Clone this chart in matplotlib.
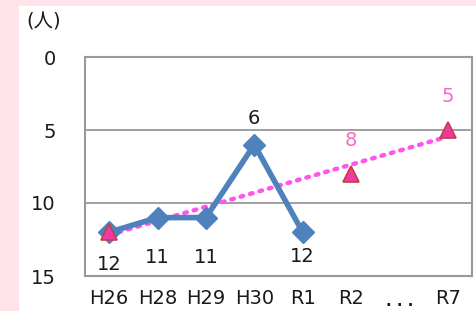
import numpy as np
import matplotlib
matplotlib.use("Agg")
import matplotlib.pyplot as plt
from matplotlib.patches import Rectangle

plt.rcParams["font.family"] = ["DejaVu Sans", "Noto Sans CJK JP"]

categories = ["H26", "H28", "H29", "H30", "R1", "R2", ". . .", "R7"]
actual_idx = [0, 1, 2, 3, 4]
actual_vals = [12, 11, 11, 6, 12]
target_idx = [0, 5, 7]
target_vals = [12, 8, 5]
target_labels = [None, "8", "5"]

blue = "#4F81BD"
pink = "#FF66CC"
fs = 14

fig = plt.figure(figsize=(4.77, 3.11), dpi=100)
fig.patch.set_facecolor("#FFE3E8")
fig.patches.append(Rectangle((19 / 477, 0), 1, 1 - 6 / 311, transform=fig.transFigure,
                             facecolor="white", edgecolor="none", zorder=0))

ax = fig.add_axes([85 / 477, 1 - 276 / 311, 387 / 477, (276 - 57) / 311])
ax.set_zorder(2)
ax.set_facecolor("white")

# linear trend through the target points
coef = np.polyfit(target_idx, target_vals, 1)
tx = np.array([0, 7])
ax.plot(tx, np.polyval(coef, tx), color="#FF55EE", linestyle=(0, (0.6, 1.6)),
        linewidth=3.2, dash_capstyle="round", zorder=3)

ax.plot(actual_idx, actual_vals, color=blue, linewidth=4.0, marker="D",
        markersize=11, zorder=4)
ax.plot(target_idx, target_vals, linestyle="none", marker="^", markersize=12,
        markerfacecolor="#F23A9E", markeredgecolor="#C0404A", markeredgewidth=1.2, zorder=5)

# data labels
blue_offsets = [2.2, 2.75, 2.75, -1.8, 1.65]
for i, v, dy in zip(actual_idx, actual_vals, blue_offsets):
    ax.text(i, v + dy, str(v), ha="center", va="center", fontsize=fs, color="#1A1A1A")
for i, v, lab in zip(target_idx, target_vals, target_labels):
    if lab:
        ax.text(i, v - 2.3, lab, ha="center", va="center", fontsize=fs, color=pink)

ax.set_xlim(-0.5, 7.5)
ax.set_ylim(15, 0)
ax.set_yticks([0, 5, 10, 15])
ax.set_xticks(range(len(categories)))
ax.set_xticklabels(categories)
ax.tick_params(length=0, labelsize=fs, colors="#1A1A1A")
ax.tick_params(axis="y", pad=21)
ax.tick_params(axis="x", pad=9)
dots = ax.get_xticklabels()[6]
dots.set_fontsize(11)
dots.set_fontweight("bold")
dots.set_y(-0.025)
ax.grid(axis="y", color="#999999", linewidth=1.3)
ax.set_axisbelow(True)
for s in ax.spines.values():
    s.set_color("#999999")
    s.set_linewidth(1.5)

fig.text(44 / 477, 1 - 22 / 311, "(人)", ha="center", va="center", fontsize=fs, color="#1A1A1A")

fig.savefig("out.png", dpi=100)
